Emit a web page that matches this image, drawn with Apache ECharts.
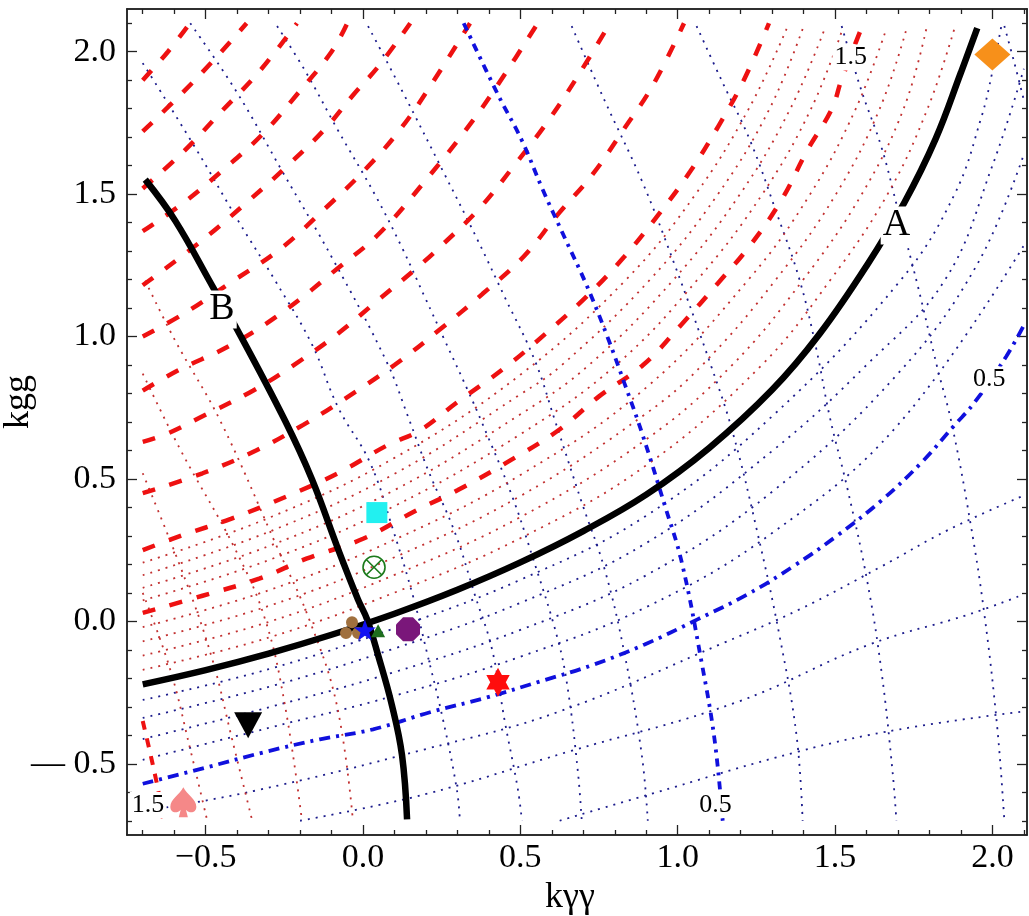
<!DOCTYPE html>
<html>
<head>
<meta charset="utf-8">
<script src="https://cdn.jsdelivr.net/npm/echarts@6/dist/echarts.min.js"></script>
<style>html,body{margin:0;padding:0;background:#fff}#chart{width:1029px;height:916px}</style>
</head>
<body>
<div id="chart"></div>
<script>
// axis ranges and ticks
const X_MIN = -0.75, X_MAX = 2.11, Y_MIN = -0.75, Y_MAX = 2.15;
const xMajorTicks = [-0.5, 0, 0.5, 1, 1.5, 2];
const yMajorTicks = [-0.5, 0, 0.5, 1, 1.5, 2];
const xMinorTicks = [-0.7,-0.6,-0.4,-0.3,-0.2,-0.1,0.1,0.2,0.3,0.4,0.6,0.7,0.8,0.9,1.1,1.2,1.3,1.4,1.6,1.7,1.8,1.9,2.1];
const yMinorTicks = [-0.7,-0.6,-0.4,-0.3,-0.2,-0.1,0.1,0.2,0.3,0.4,0.6,0.7,0.8,0.9,1.1,1.2,1.3,1.4,1.6,1.7,1.8,1.9,2.1];

// black curves A and B
const curveA = [[-0.7,-0.221],[-0.5,-0.171],[-0.3,-0.113],[-0.1,-0.047],[0.1,0.027],[0.3,0.111],[0.5,0.207],[0.7,0.317],[0.9,0.445],[1.1,0.609],[1.3,0.813],[1.45,1.008],[1.6,1.248],[1.72,1.47],[1.82,1.695],[1.9,1.927],[1.952,2.083]];
const curveB = [[-0.692,1.551],[-0.597,1.407],[-0.476,1.172],[-0.40,1.025],[-0.248,0.705],[-0.162,0.498],[-0.079,0.253],[-0.016,0.077],[0.013,0.007],[0.048,-0.119],[0.092,-0.295],[0.124,-0.47],[0.14,-0.695]];

// family parallel to A, levels above 1 (red)
const pDashed = [
  [[-0.70,0.03],[-0.51,0.09],[-0.33,0.15],[-0.18,0.22],[0.00,0.29],[0.17,0.39],[0.30,0.46],[0.46,0.56],[0.62,0.67],[0.75,0.79],[0.89,0.90],[1.01,1.04],[1.13,1.19],[1.23,1.32],[1.33,1.48],[1.41,1.65],[1.49,1.80],[1.52,1.90],[1.59,2.10]],
  [[-0.70,0.25],[-0.58,0.30],[-0.42,0.36],[-0.24,0.44],[-0.08,0.52],[0.08,0.62],[0.18,0.67],[0.30,0.77],[0.45,0.89],[0.58,1.01],[0.71,1.14],[0.83,1.28],[0.94,1.43],[1.04,1.58],[1.13,1.74],[1.21,1.90],[1.29,2.10]],
  [[-0.70,0.45],[-0.51,0.52],[-0.34,0.60],[-0.19,0.69],[-0.06,0.78],[0.10,0.90],[0.25,1.03],[0.38,1.15],[0.51,1.28],[0.62,1.43],[0.73,1.57],[0.83,1.73],[0.92,1.88],[1.02,2.10]],
  [[-0.70,0.63],[-0.62,0.66],[-0.51,0.72],[-0.35,0.81],[-0.22,0.90],[-0.08,1.01],[0.05,1.13],[0.17,1.24],[0.25,1.32],[0.37,1.45],[0.48,1.60],[0.59,1.76],[0.68,1.91],[0.785,2.10]],
  [[-0.70,0.81],[-0.59,0.88],[-0.42,0.97],[-0.25,1.09],[-0.08,1.24],[0.05,1.36],[0.20,1.55],[0.35,1.76],[0.45,1.92],[0.555,2.10]],
  [[-0.70,1.00],[-0.57,1.08],[-0.42,1.19],[-0.26,1.31],[-0.12,1.45],[0.01,1.59],[0.12,1.73],[0.22,1.89],[0.34,2.10]],
  [[-0.70,1.18],[-0.52,1.33],[-0.36,1.48],[-0.23,1.61],[-0.12,1.73],[-0.03,1.85],[0.05,1.95],[0.15,2.10]],
  [[-0.70,1.37],[-0.57,1.47],[-0.45,1.58],[-0.32,1.71],[-0.21,1.85],[-0.10,2.00],[-0.05,2.10]],
  [[-0.70,1.52],[-0.57,1.65],[-0.45,1.79],[-0.33,1.93],[-0.21,2.10]],
  [[-0.70,1.72],[-0.57,1.86],[-0.45,2.00],[-0.37,2.10]],
  [[-0.70,1.90],[-0.62,2.00],[-0.55,2.10]]
];
const pRedDotted = [
  [[-0.7,-0.17],[-0.3,-0.057],[0.1,0.101],[0.5,0.292],[0.9,0.548],[1.267,0.9],[1.486,1.2],[1.667,1.5],[1.794,1.8],[1.879,2.08]],
  [[-0.7,-0.12],[-0.3,-0.002],[0.1,0.163],[0.5,0.366],[0.9,0.639],[1.173,0.9],[1.399,1.2],[1.585,1.5],[1.718,1.8],[1.79,2.08]],
  [[-0.7,-0.07],[-0.3,0.054],[0.1,0.225],[0.5,0.44],[0.9,0.73],[1.078,0.9],[1.312,1.2],[1.503,1.5],[1.642,1.8],[1.727,2.08]],
  [[-0.7,-0.02],[-0.3,0.109],[0.1,0.287],[0.5,0.514],[0.9,0.821],[1.225,1.2],[1.421,1.5],[1.566,1.8],[1.663,2.08]],
  [[-0.7,0.074],[-0.3,0.215],[0.1,0.405],[0.5,0.657],[0.804,0.9],[1.063,1.2],[1.269,1.5],[1.424,1.8],[1.524,2.08]],
  [[-0.7,0.118],[-0.3,0.264],[0.1,0.461],[0.5,0.727],[0.718,0.9],[0.987,1.2],[1.198,1.5],[1.358,1.8],[1.467,2.08]],
  [[-0.7,0.162],[-0.3,0.314],[0.1,0.518],[0.5,0.797],[0.632,0.9],[0.912,1.2],[1.128,1.5],[1.292,1.8],[1.397,2.08]],
  [[-0.7,0.206],[-0.3,0.363],[0.1,0.574],[0.5,0.866],[0.836,1.2],[1.057,1.5],[1.226,1.8],[1.346,2.08]]
];
// family parallel to A, levels below 1 (blue)
const pBlueDotted = [
  [[-0.7,-0.276],[-0.3,-0.168],[0.1,-0.024],[0.5,0.146],[0.9,0.371],[1.3,0.72],[1.71,1.2],[1.88,1.5],[1.965,1.77],[2.0,1.93],[2.03,2.1]],
  [[-0.7,-0.339],[-0.3,-0.23],[0.1,-0.095],[0.5,0.065],[0.9,0.275],[1.3,0.598],[1.6,0.90],[1.85,1.2],[2.0,1.6],[2.1,1.94]],
  [[-0.7,-0.413],[-0.3,-0.302],[0.1,-0.178],[0.5,-0.03],[0.9,0.162],[1.3,0.455],[1.7,0.87],[1.95,1.25],[2.1,1.64]],
  [[-0.7,-0.486],[-0.3,-0.374],[0.1,-0.261],[0.5,-0.124],[0.9,0.05],[1.3,0.31],[1.7,0.69],[2.1,1.32]],
  [[-0.70,-0.667],[-0.349,-0.596],[0.197,-0.449],[0.625,-0.316],[1.149,-0.074],[1.387,0.042],[1.641,0.189],[1.863,0.323],[2.1,0.442]],
  [[-0.2,-0.70],[0.197,-0.607],[0.657,-0.456],[1.187,-0.284],[1.61,-0.081],[1.927,0.025],[2.1,0.095]],
  [[0.625,-0.70],[0.911,-0.607],[1.387,-0.456],[1.705,-0.379],[2.1,-0.316]]
];
const pHalf = [[-0.70,-0.57],[-0.495,-0.512],[-0.317,-0.46],[-0.137,-0.414],[0.032,-0.379],[0.213,-0.319],[0.394,-0.267],[0.562,-0.211],[0.727,-0.154],[0.895,-0.081],[1.063,0.007],[1.222,0.095],[1.371,0.196],[1.508,0.302],[1.648,0.425],[1.775,0.558],[1.879,0.688],[1.943,0.768],[2.044,0.93],[2.1,1.04]];

// family parallel to B
const qRedDotted = [
  [[-0.692,1.196],[-0.597,0.986],[-0.454,0.705],[-0.27,0.253],[-0.171,0.007],[-0.083,-0.295],[-0.032,-0.70]],
  [[-0.70,0.87],[-0.581,0.604],[-0.406,0.253],[-0.311,0.007],[-0.248,-0.295],[-0.194,-0.70]],
  [[-0.70,0.52],[-0.565,0.147],[-0.479,-0.133],[-0.416,-0.414],[-0.352,-0.70]],
  [[-0.70,0.10],[-0.613,-0.168],[-0.549,-0.449],[-0.495,-0.70]]
];
const qOneHalf = [[-0.70,-0.35],[-0.654,-0.575],[-0.635,-0.70]];
const qBlueDotted = [
  [[-0.70,1.96],[-0.533,1.663],[-0.397,1.407],[-0.279,1.196],[-0.162,0.972],[-0.079,0.751],[0.022,0.558],[0.095,0.323],[0.159,0.088],[0.203,-0.109],[0.254,-0.344],[0.298,-0.589],[0.308,-0.70]],
  [[-0.549,2.10],[-0.40,1.856],[-0.254,1.575],[-0.095,1.27],[0.076,0.909],[0.143,0.719],[0.206,0.533],[0.292,0.312],[0.356,0.091],[0.41,-0.098],[0.451,-0.354],[0.492,-0.589],[0.505,-0.70]],
  [[-0.273,2.09],[-0.184,1.933],[-0.079,1.723],[0.038,1.498],[0.124,1.312],[0.197,1.137],[0.26,0.986],[0.333,0.811],[0.378,0.698],[0.473,0.442],[0.537,0.232],[0.619,-0.063],[0.651,-0.239],[0.683,-0.53],[0.695,-0.70]],
  [[0.016,2.09],[0.124,1.863],[0.26,1.568],[0.365,1.337],[0.451,1.137],[0.546,0.916],[0.61,0.705],[0.695,0.418],[0.768,0.182],[0.832,-0.119],[0.886,-0.47],[0.905,-0.70]],
  [[0.663,2.09],[0.768,1.828],[0.886,1.547],[0.99,1.253],[1.108,0.891],[1.175,0.663],[1.251,0.323],[1.324,-0.053],[1.378,-0.404],[1.397,-0.70]],
  [[1.06,2.09],[1.143,1.891],[1.229,1.691],[1.314,1.435],[1.387,1.2],[1.441,0.954],[1.483,0.719],[1.54,0.463],[1.603,0.137],[1.648,-0.179],[1.683,-0.53],[1.695,-0.70]],
  [[1.521,2.09],[1.584,1.863],[1.648,1.663],[1.698,1.453],[1.762,1.182],[1.825,0.891],[1.87,0.698],[1.93,0.347],[1.975,0.021],[2.016,-0.379],[2.038,-0.70]],
  [[2.038,2.09],[2.07,1.96],[2.1,1.83]]
];
const qHalf = [[0.32,2.10],[0.429,1.849],[0.505,1.688],[0.571,1.516],[0.641,1.347],[0.711,1.179],[0.775,1.004],[0.832,0.832],[0.886,0.663],[0.959,0.407],[1.013,0.207],[1.076,-0.144],[1.117,-0.414],[1.143,-0.70]];

// inline contour labels
const contourLabels = ['A', 'B', '1.5', '0.5', '0.5', '1.5'];
const contourLabelPos = [[1.695,1.39],[-0.448,1.095],[1.55,1.98],[1.99,0.849],[1.12,-0.645],[-0.683,-0.645]];
const contourLabelSize = [38, 38, 26, 26, 26, 26];

// benchmark points
const ptDiamond = [2.0, 1.99];
const ptSquare = [0.044, 0.382];
const ptOtimes = [0.035, 0.19];
const ptClub = [-0.035, -0.022];
const ptTriSmall = [0.048, -0.033];
const ptStar = [0.006, -0.03];
const ptOctagon = [0.143, -0.028];
const ptHexagram = [0.429, -0.214];
const ptTriDown = [-0.365, -0.365];
const ptSpade = [-0.571, -0.635];

const SERIF = '"Liberation Serif", "DejaVu Serif", serif';

function curve(data, color, width, dash, z) {
  return {
    type: 'line', data: data, smooth: 0.4, symbol: 'none', showSymbol: false,
    silent: true, animation: false, z: z,
    lineStyle: { color: color, width: width, type: dash, cap: 'butt', opacity: 1 }
  };
}
function marker(pt, symbol, size, style, extra) {
  return Object.assign({
    type: 'scatter', data: [pt], symbol: symbol, symbolSize: size,
    symbolKeepAspect: true, silent: true, animation: false, z: 6,
    itemStyle: Object.assign({ opacity: 1 }, style)
  }, extra || {});
}

const series = [];
pBlueDotted.forEach(d => series.push(curve(d, '#1c1c8c', 1.8, [2, 6], 2)));
qBlueDotted.forEach(d => series.push(curve(d, '#1c1c8c', 1.8, [2, 6], 2)));
pRedDotted.forEach(d => series.push(curve(d, '#c23030', 1.8, [2, 6], 2)));
qRedDotted.forEach(d => series.push(curve(d, '#c23030', 1.8, [2, 6], 2)));
pDashed.forEach(d => series.push(curve(d, '#ee1111', 4.5, [13, 15], 3)));
series.push(curve(qOneHalf, '#ee1111', 4, [9, 9], 3));
series.push(curve(pHalf, '#1010dd', 3.8, [11, 6, 3, 6], 3));
series.push(curve(qHalf, '#1010dd', 3.8, [8, 6, 3, 6], 3));
series.push(curve(curveA, '#000', 6.5, 'solid', 4));
series.push(curve(curveB, '#000', 6.5, 'solid', 4));

const STAR5 = 'path://M0,-10L2.35,-3.24L9.51,-3.09L3.8,1.24L5.88,8.09L0,4L-5.88,8.09L-3.8,1.24L-9.51,-3.09L-2.35,-3.24Z';
const HEXAGRAM = 'path://M0,-10L2.89,-5L8.66,-5L5.77,0L8.66,5L2.89,5L0,10L-2.89,5L-8.66,5L-5.77,0L-8.66,-5L-2.89,-5Z';
const OCTAGON = 'path://M-4.14,-10L4.14,-10L10,-4.14L10,4.14L4.14,10L-4.14,10L-10,4.14L-10,-4.14Z';
const SPADE = 'path://M0,-10C3,-5 10,-2 10,3C10,7 5,8 2,5L3.5,10L-3.5,10L-2,5C-5,8 -10,7 -10,3C-10,-2 -3,-5 0,-10Z';
const CLUB = 'path://M-4.5,-4.5a4.5,4.5 0 1,0 9,0a4.5,4.5 0 1,0 -9,0ZM-9,3.5a4.5,4.5 0 1,0 9,0a4.5,4.5 0 1,0 -9,0ZM0,3.5a4.5,4.5 0 1,0 9,0a4.5,4.5 0 1,0 -9,0Z';
const OTIMES = 'path://M-10,0a10,10 0 1,0 20,0a10,10 0 1,0 -20,0ZM-7.07,-7.07L7.07,7.07M7.07,-7.07L-7.07,7.07';

series.push(marker(ptDiamond, 'diamond', [36, 32], { color: '#f7901a' }));
series.push(marker(ptSquare, 'rect', [21, 21], { color: '#22f0f0' }));
series.push(marker(ptOtimes, OTIMES, [22, 22], { color: 'rgba(0,0,0,0)', borderColor: '#1b7a1b', borderWidth: 1.6 }));
series.push(marker(ptClub, CLUB, [24, 24], { color: '#a0703e' }));
series.push(marker(ptTriSmall, 'triangle', [14, 13], { color: '#1e6e1e' }));
series.push(marker(ptStar, STAR5, [22, 22], { color: '#1212f2' }));
series.push(marker(ptOctagon, OCTAGON, [24, 24], { color: '#7a177a' }));
series.push(marker(ptHexagram, HEXAGRAM, [27, 29], { color: '#ff0d0d' }));
series.push(marker(ptTriDown, 'triangle', [28, 26], { color: '#000' }, { symbolRotate: 180 }));
series.push(marker(ptSpade, SPADE, [26, 30], { color: '#f58888' }));

series.push({
  type: 'scatter', silent: true, animation: false, z: 7,
  symbolSize: 1, itemStyle: { color: 'rgba(0,0,0,0)', opacity: 1 },
  data: contourLabels.map((t, i) => ({
    name: t, value: contourLabelPos[i],
    label: { fontSize: contourLabelSize[i] }
  })),
  label: {
    show: true, position: 'inside', formatter: p => p.name, opacity: 1,
    fontFamily: SERIF, color: '#000', backgroundColor: '#fff', padding: [0, 2]
  }
});

function xAxisDef(pos, ticks, len, labels) {
  return {
    type: 'value', position: pos, min: X_MIN, max: X_MAX,
    axisLine: { show: true, onZero: false, lineStyle: { color: '#222', width: 1.5 } },
    axisTick: { show: true, inside: true, length: len, customValues: ticks, lineStyle: { color: '#222', width: 1.3 } },
    axisLabel: labels ? {
      show: true, customValues: ticks, fontFamily: SERIF, fontSize: 34, color: '#000', margin: 6,
      formatter: v => (v < 0 ? '\u2212' : '') + Math.abs(v).toFixed(1)
    } : { show: false },
    splitLine: { show: false }
  };
}
function yAxisDef(pos, ticks, len, labels) {
  return {
    type: 'value', position: pos, min: Y_MIN, max: Y_MAX,
    axisLine: { show: true, onZero: false, lineStyle: { color: '#222', width: 1.5 } },
    axisTick: { show: true, inside: true, length: len, customValues: ticks, lineStyle: { color: '#222', width: 1.3 } },
    axisLabel: labels ? {
      show: true, customValues: ticks, fontFamily: SERIF, fontSize: 34, color: '#000', margin: 11,
      formatter: v => (v < 0 ? '\u2014 ' : '') + Math.abs(v).toFixed(1)
    } : { show: false },
    splitLine: { show: false }
  };
}

const xMain = xAxisDef('bottom', xMajorTicks, 10, true);
xMain.name = 'k\u03b3\u03b3';
xMain.nameLocation = 'middle';
xMain.nameGap = 45;
xMain.nameMoveOverlap = false;
xMain.nameTextStyle = { fontFamily: SERIF, fontSize: 36, color: '#000', padding: [0, 14, 0, 0] };
const yMain = yAxisDef('left', yMajorTicks, 10, true);
yMain.name = 'kgg';
yMain.nameLocation = 'middle';
yMain.nameGap = 90;
yMain.nameRotate = 90;
yMain.nameMoveOverlap = false;
yMain.nameTextStyle = { fontFamily: SERIF, fontSize: 36, color: '#000', padding: [0, 0, 0, 40] };

const chart = echarts.init(document.getElementById('chart'), null, { renderer: 'canvas' });
chart.setOption({
  backgroundColor: '#fff',
  animation: false,
  grid: { left: 127, top: 9, right: 2, bottom: 81, containLabel: false, outerBoundsMode: 'none' },
  xAxis: [xMain, xAxisDef('bottom', xMinorTicks, 5, false), xAxisDef('top', xMajorTicks, 10, false), xAxisDef('top', xMinorTicks, 5, false)],
  yAxis: [yMain, yAxisDef('left', yMinorTicks, 5, false), yAxisDef('right', yMajorTicks, 10, false), yAxisDef('right', yMinorTicks, 5, false)],
  series: series
});
</script>
</body>
</html>
